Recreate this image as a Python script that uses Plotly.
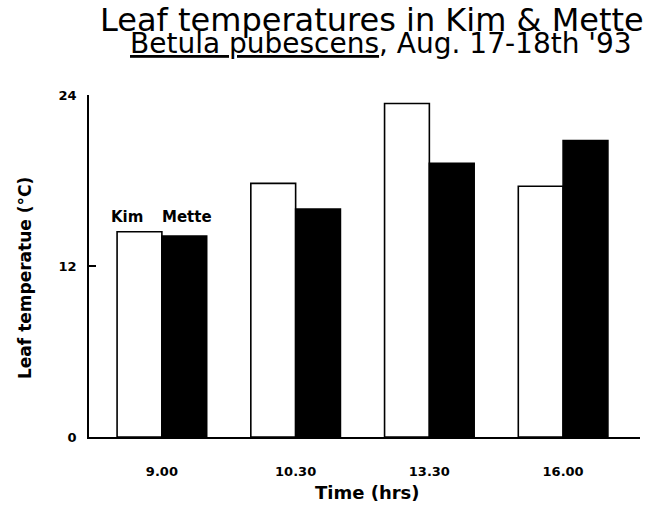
import plotly.graph_objects as go

times = ["9.00", "10.30", "13.30", "16.00"]
kim = [14.4, 17.8, 23.4, 17.6]
mette = [14.1, 16.0, 19.2, 20.8]
y_ticks = [0, 12, 24]

title_text = "Leaf temperatures in Kim &amp; Mette"
subtitle_text = "<u>Betula pubescens</u>, Aug. 17-18th '93"
x_title = "Time (hrs)"
y_title = "Leaf temperatue (°C)"

FONT = "DejaVu Sans"

fig = go.Figure()
fig.add_trace(go.Bar(name="Kim", x=times, y=kim,
                     marker=dict(color="white", line=dict(color="black", width=1.6))))
fig.add_trace(go.Bar(name="Mette", x=times, y=mette,
                     marker=dict(color="black", line=dict(color="black", width=1.6))))

fig.update_layout(
    width=645, height=507,
    margin=dict(l=89, r=5, t=95, b=70),
    paper_bgcolor="white", plot_bgcolor="white",
    barmode="group", bargap=0.33, bargroupgap=0,
    showlegend=False,
    font=dict(family=FONT, color="black"),
)
fig.update_xaxes(
    type="category", range=[-0.545, 3.575],
    showline=True, linecolor="black", linewidth=1.6,
    ticks="", showgrid=False, zeroline=False,
    tickfont=dict(family=FONT, size=13, color="black", weight="bold"),
    ticklabelstandoff=22,
)
fig.update_yaxes(
    range=[0, 24], tickvals=y_ticks,
    showline=True, linecolor="black", linewidth=1.6,
    ticks="inside", ticklen=7, tickwidth=1.6, tickcolor="black",
    showgrid=False, zeroline=False,
    tickfont=dict(family=FONT, size=13, color="black", weight="bold"),
    ticklabelstandoff=8,
)

first = 0  # index of the first time category (9.00)

ann = []
ann.append(dict(text=title_text, xref="paper", yref="paper", x=0.5136, y=1,
                yshift=75, xanchor="center", yanchor="middle", showarrow=False,
                font=dict(family=FONT, size=32, color="black")))
ann.append(dict(text=subtitle_text, xref="paper", yref="paper", x=0.5299, y=1,
                yshift=52, xanchor="center", yanchor="middle", showarrow=False,
                font=dict(family=FONT, size=28, color="black")))
ann.append(dict(text=x_title, xref="paper", yref="paper", x=0.5, y=0,
                xshift=3, yshift=-55, xanchor="center", yanchor="middle", showarrow=False,
                font=dict(family=FONT, size=18, color="black", weight="bold")))
ann.append(dict(text=y_title, xref="paper", yref="paper", x=0, y=0.5,
                xshift=-64, yshift=-12, textangle=-90, xanchor="center", yanchor="middle",
                showarrow=False,
                font=dict(family=FONT, size=17, color="black", weight="bold")))
ann.append(dict(text="Kim", xref="x", yref="y", x=first, y=kim[first],
                xshift=-35, yshift=15, xanchor="center", yanchor="middle", showarrow=False,
                font=dict(family=FONT, size=15, color="black", weight="bold")))
ann.append(dict(text="Mette", xref="x", yref="y", x=first, y=kim[first],
                xshift=25, yshift=15, xanchor="center", yanchor="middle", showarrow=False,
                font=dict(family=FONT, size=15, color="black", weight="bold")))
fig.update_layout(annotations=ann)

fig.write_html("out.html",
               config={"displayModeBar": False},
               post_script="document.body.style.margin='0';document.body.style.overflow='hidden';")
